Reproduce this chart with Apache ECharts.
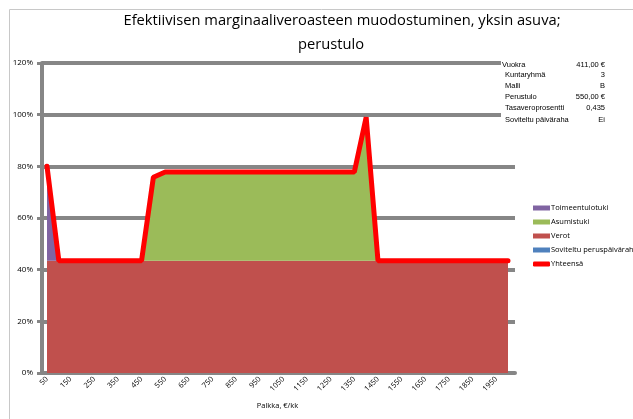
<!DOCTYPE html>
<html>
<head>
<meta charset="utf-8">
<script src="https://cdn.jsdelivr.net/npm/echarts@6/dist/echarts.min.js"></script>
<style>
  html, body { margin: 0; padding: 0; background: #ffffff; }
  #chart { width: 633px; height: 419px; }
</style>
</head>
<body>
<div id="chart"></div>
<script>
const palkka = ['50', '100', '150', '200', '250', '300', '350', '400', '450', '500',
  '550', '600', '650', '700', '750', '800', '850', '900', '950', '1000',
  '1050', '1100', '1150', '1200', '1250', '1300', '1350', '1400', '1450', '1500',
  '1550', '1600', '1650', '1700', '1750', '1800', '1850', '1900', '1950', '2000'];

const soviteltu = [0, 0, 0, 0, 0, 0, 0, 0, 0, 0,
  0, 0, 0, 0, 0, 0, 0, 0, 0, 0,
  0, 0, 0, 0, 0, 0, 0, 0, 0, 0,
  0, 0, 0, 0, 0, 0, 0, 0, 0, 0];

const verot = [0.435, 0.435, 0.435, 0.435, 0.435, 0.435, 0.435, 0.435, 0.435, 0.435,
  0.435, 0.435, 0.435, 0.435, 0.435, 0.435, 0.435, 0.435, 0.435, 0.435,
  0.435, 0.435, 0.435, 0.435, 0.435, 0.435, 0.435, 0.435, 0.435, 0.435,
  0.435, 0.435, 0.435, 0.435, 0.435, 0.435, 0.435, 0.435, 0.435, 0.435];

const asumistuki = [0, 0, 0, 0, 0, 0, 0, 0, 0, 0.323,
  0.343, 0.343, 0.343, 0.343, 0.343, 0.343, 0.343, 0.343, 0.343, 0.343,
  0.343, 0.343, 0.343, 0.343, 0.343, 0.343, 0.343, 0.555, 0, 0,
  0, 0, 0, 0, 0, 0, 0, 0, 0, 0];

const toimeentulotuki = [0.365, 0, 0, 0, 0, 0, 0, 0, 0, 0,
  0, 0, 0, 0, 0, 0, 0, 0, 0, 0,
  0, 0, 0, 0, 0, 0, 0, 0, 0, 0,
  0, 0, 0, 0, 0, 0, 0, 0, 0, 0];

const yhteensa = [0.80, 0.435, 0.435, 0.435, 0.435, 0.435, 0.435, 0.435, 0.435, 0.758,
  0.778, 0.778, 0.778, 0.778, 0.778, 0.778, 0.778, 0.778, 0.778, 0.778,
  0.778, 0.778, 0.778, 0.778, 0.778, 0.778, 0.778, 0.99, 0.435, 0.435,
  0.435, 0.435, 0.435, 0.435, 0.435, 0.435, 0.435, 0.435, 0.435, 0.435];

const infoLabels = ['Vuokra', 'Kuntaryhmä', 'Malli', 'Perustulo', 'Tasaveroprosentti', 'Soviteltu päiväraha'];
const infoValues = ['411,00 €', '3', 'B', '550,00 €', '0,435', 'Ei'];

const gray = '#868686';
const infoY = [66, 76, 87, 98, 109, 121];

// white box behind the info text, it hides the grid lines there
const infoText = [
  { type: 'rect', left: 501, top: 58, shape: { width: 110, height: 70 },
    style: { fill: '#ffffff' }, z: 10 }
];
infoLabels.forEach((t, i) => {
  infoText.push({
    type: 'text', left: i === 0 ? 502 : 505, top: infoY[i] - 5, z: 11,
    style: { text: t, font: '7.5px "Liberation Sans"', fill: '#000' }
  });
  infoText.push({
    type: 'text', right: 633 - 605, top: infoY[i] - 5, z: 11,
    style: { text: infoValues[i], font: '7.5px "Liberation Sans"', fill: '#000', textAlign: 'right' }
  });
});

const areaSeries = (name, data, color) => ({
  name: name,
  type: 'line',
  stack: 'total',
  xAxisIndex: 1,
  yAxisIndex: 1,
  data: data,
  showSymbol: false,
  lineStyle: { width: 0 },
  itemStyle: { color: color },
  areaStyle: { color: color, opacity: 1 },
  z: 3
});

const chart = echarts.init(document.getElementById('chart'));
chart.setOption({
  animation: false,
  textStyle: { fontFamily: 'Open Sans' },
  title: [
    { text: 'Efektiivisen marginaaliveroasteen muodostuminen, yksin asuva;', left: 337, top: 8,
      textAlign: 'center', textStyle: { fontSize: 14.7, fontWeight: 'normal', color: '#000', fontFamily: 'Open Sans' } },
    { text: 'perustulo', left: 326, top: 32,
      textAlign: 'center', textStyle: { fontSize: 14.7, fontWeight: 'normal', color: '#000', fontFamily: 'Open Sans' } }
  ],
  legend: {
    orient: 'vertical',
    left: 528,
    top: 199,
    itemWidth: 17,
    itemHeight: 5,
    itemGap: 6,
    textStyle: { fontSize: 7.5, color: '#000', padding: [0, 0, 0, -4] },
    data: [
      { name: 'Toimeentulotuki', icon: 'rect' },
      { name: 'Asumistuki', icon: 'rect' },
      { name: 'Verot', icon: 'rect' },
      { name: 'Soviteltu peruspäiväraha', icon: 'rect' },
      { name: 'Yhteensä', icon: 'roundRect' }
    ]
  },
  grid: [
    { left: 42, right: 118, top: 63, bottom: 46 },
    { left: 47, right: 125, top: 63, bottom: 46 }
  ],
  xAxis: [
    {
      type: 'value', gridIndex: 0, min: 0, max: 1,
      axisLine: { show: true, onZero: false, lineStyle: { color: gray, width: 4 } },
      axisTick: { show: false }, axisLabel: { show: false }, splitLine: { show: false }
    },
    {
      type: 'category', gridIndex: 1, data: palkka, boundaryGap: false,
      axisLine: { show: false }, axisTick: { show: false }, splitLine: { show: false },
      axisLabel: { interval: 1, rotate: 45, fontSize: 7.5, color: '#000', margin: 5 },
      name: 'Palkka, €/kk', nameLocation: 'middle', nameGap: 29,
      nameTextStyle: { fontSize: 7.5, color: '#000' }
    }
  ],
  yAxis: [
    {
      type: 'value', gridIndex: 0, min: 0, max: 1.2, interval: 0.2,
      axisLine: { show: true, lineStyle: { color: gray, width: 4 } },
      axisTick: { show: true, length: 5, lineStyle: { color: gray, width: 3 } },
      axisLabel: { fontSize: 8, color: '#000', margin: 9,
        formatter: v => Math.round(v * 100) + '%' },
      splitLine: { show: true, lineStyle: { color: gray, width: 4 } }
    },
    {
      type: 'value', gridIndex: 1, min: 0, max: 1.2, interval: 0.2,
      axisLine: { show: false }, axisTick: { show: false },
      axisLabel: { show: false }, splitLine: { show: false }
    }
  ],
  graphic: [
    { type: 'rect', left: 7, top: 7, shape: { width: 640, height: 430 },
      style: { fill: 'none', stroke: '#c8c8c8', lineWidth: 1 }, z: -1 }
  ].concat(infoText),
  series: [
    areaSeries('Soviteltu peruspäiväraha', soviteltu, '#4F81BD'),
    areaSeries('Verot', verot, '#C0504D'),
    areaSeries('Asumistuki', asumistuki, '#9BBB59'),
    areaSeries('Toimeentulotuki', toimeentulotuki, '#8064A2'),
    {
      name: 'Yhteensä',
      type: 'line',
      xAxisIndex: 1,
      yAxisIndex: 1,
      data: yhteensa,
      showSymbol: false,
      itemStyle: { color: '#FF0000' },
      lineStyle: { color: '#FF0000', width: 5, cap: 'round' },
      z: 5
    }
  ]
});
</script>
</body>
</html>
